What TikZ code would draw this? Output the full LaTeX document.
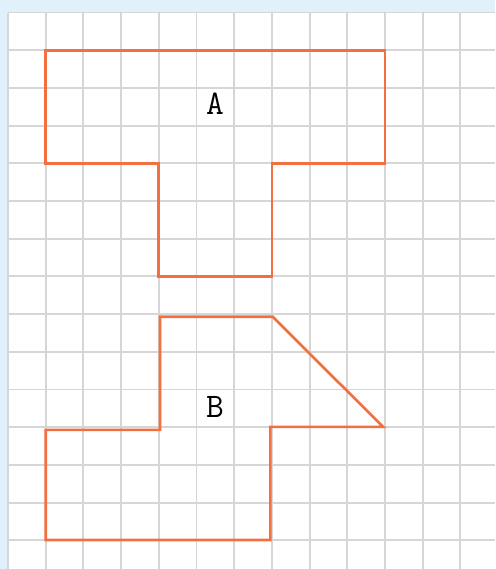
\documentclass[tikz,border=0pt]{standalone}
\usepackage{tikz}
\definecolor{bgblue}{HTML}{E0F1FB}
\definecolor{gridgrey}{HTML}{D6D6D6}
\definecolor{shapeorange}{HTML}{F2703F}

\begin{document}
\begin{tikzpicture}[y=-1cm,
        gridline/.style={gridgrey, line width=1.4pt},
        outline/.style={shapeorange, line width=2pt, line join=miter},
        lbl/.style={inner sep=0pt, font=\ttfamily\fontsize{26}{30}\selectfont}]
        \useasboundingbox (-0.212,-0.332) rectangle (12.918,14.761);
        \fill[bgblue] (-0.212,-0.332) rectangle (12.918,14.761);
        \fill[white] (0,0) rectangle (12.918,14.761);
        % squared paper
        \foreach \i in {0,...,12} \draw[gridline] (\i,0) -- (\i,14.761);
        \foreach \j in {0,...,14} \draw[gridline] (0,\j) -- (12.918,\j);
        % figure A
        \draw[outline] (1,1) -- (10,1) -- (10,4) -- (7,4) -- (7,7) -- (4,7) -- (4,4) -- (1,4) -- cycle;
        \node[lbl] (labelA) at (5.49,2.42) {A};
        % figure B
        \draw[outline] (4.03,8.07) -- (7.02,8.07) -- (9.95,10.99) -- (6.96,10.99) -- (6.96,13.99) -- (1,13.99) -- (1,11.07) -- (4.03,11.07) -- cycle;
        \node[lbl] (labelB) at (5.49,10.45) {B};
    \end{tikzpicture}
\end{document}
